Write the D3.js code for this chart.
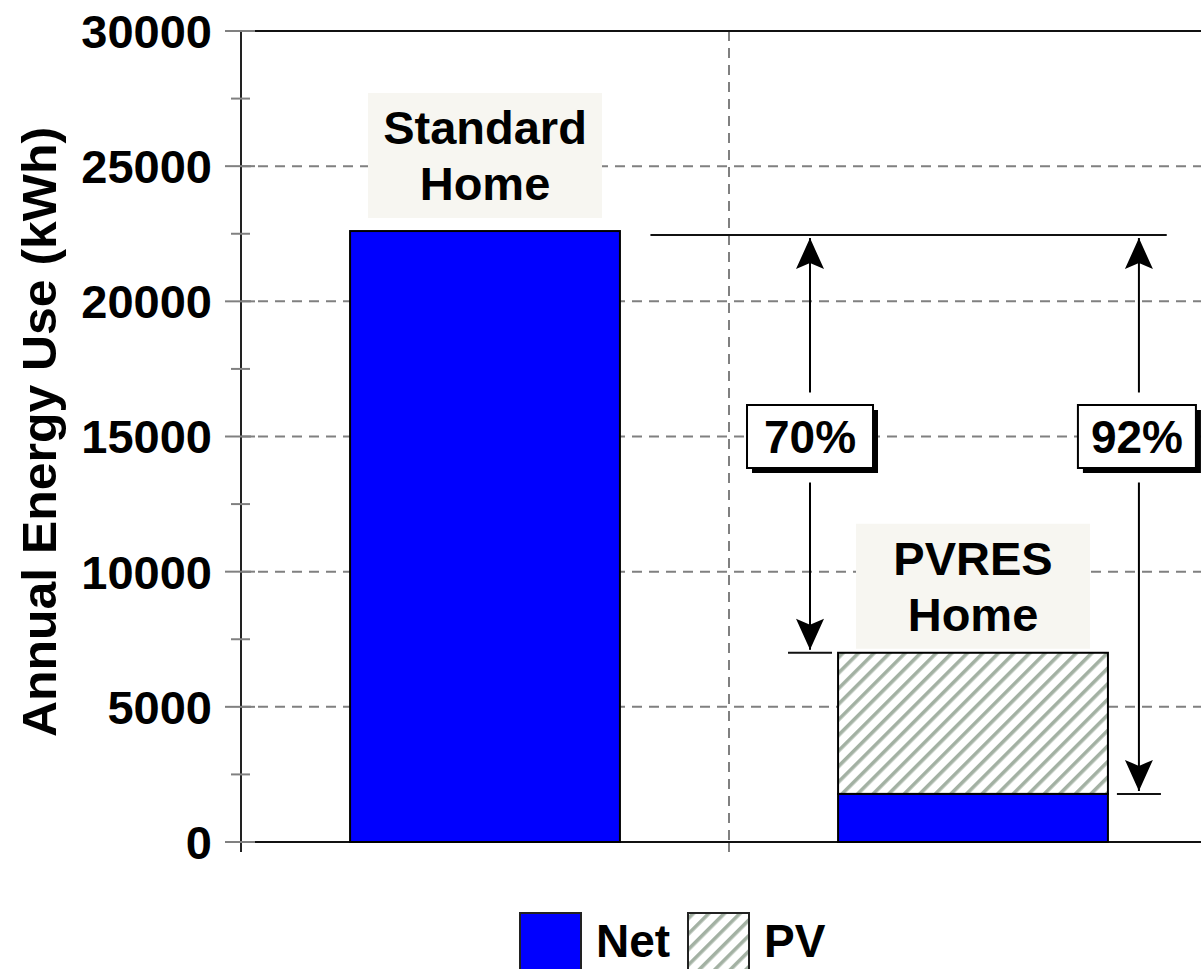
<!DOCTYPE html>
<html>
<head>
<meta charset="utf-8">
<script src="https://cdn.jsdelivr.net/npm/d3@7"></script>
<style>
  html, body { margin: 0; padding: 0; background: #fff; }
  svg { display: block; }
  text { font-family: "Liberation Sans", Arial, sans-serif; font-weight: bold; fill: #000; }
</style>
</head>
<body>
<svg id="chart" width="1201" height="969"></svg>
<script>
// chart data
const categories = ["Standard Home", "PVRES Home"];
const labelLines = [["Standard", "Home"], ["PVRES", "Home"]];
const netValues = [22600, 1780];
const pvValues = [0, 5220];
const yTicks = [0, 5000, 10000, 15000, 20000, 25000, 30000];
const yMinorTicks = [2500, 7500, 12500, 17500, 22500, 27500];
const savings = ["70%", "92%"];
const legendItems = ["Net", "PV"];

const svg = d3.select("#chart");
const W = 1201, H = 969;
const plotLeft = 241, plotTop = 31, plotBottom = 842, plotRight = 1217;

const y = d3.scaleLinear().domain([0, 30000]).range([plotBottom, plotTop]);
const x = d3.scaleBand().domain(categories).range([plotLeft, plotRight]).paddingInner(0).paddingOuter(0);
const barW = x.bandwidth() * 0.553;
const barX = c => x(c) + (x.bandwidth() - barW) / 2;
// continuous helper over the category axis (0..2) for annotation placement
const xc = d3.scaleLinear().domain([0, categories.length]).range([plotLeft, plotRight]);

const grey = "#808080";

// hatch pattern for PV
const defs = svg.append("defs");
const pat = defs.append("pattern")
  .attr("id", "hatch")
  .attr("patternUnits", "userSpaceOnUse")
  .attr("width", 11).attr("height", 11)
  .attr("patternTransform", "rotate(45)");
pat.append("rect").attr("width", 11).attr("height", 11).attr("fill", "#fff");
pat.append("rect").attr("x", 0).attr("width", 3.6).attr("height", 11).attr("fill", "#a3b1a3");

// arrow head, pointing along +x (the line direction)
defs.append("marker")
  .attr("id", "head")
  .attr("viewBox", "-34 -16 36 32")
  .attr("refX", 0).attr("refY", 0)
  .attr("markerWidth", 36).attr("markerHeight", 32)
  .attr("markerUnits", "userSpaceOnUse")
  .attr("orient", "auto-start-reverse")
  .append("path")
  .attr("d", "M0,0 L-31,-14 L-25,0 L-31,14 Z")
  .attr("fill", "#000");

// gridlines
svg.append("g").selectAll("line")
  .data(yTicks.filter(d => d > 0 && d < 30000))
  .join("line")
  .attr("x1", plotLeft).attr("x2", W)
  .attr("y1", d => y(d)).attr("y2", d => y(d))
  .attr("stroke", grey).attr("stroke-width", 2)
  .attr("stroke-dasharray", "10,7");

svg.append("line")
  .attr("x1", x(categories[1])).attr("x2", x(categories[1]))
  .attr("y1", plotTop).attr("y2", plotBottom)
  .attr("stroke", grey).attr("stroke-width", 2)
  .attr("stroke-dasharray", "10,7");
svg.append("line")
  .attr("x1", x(categories[1])).attr("x2", x(categories[1]))
  .attr("y1", plotBottom).attr("y2", plotBottom + 10)
  .attr("stroke", grey).attr("stroke-width", 2);

// frame: top and bottom lines, y axis
svg.append("line").attr("x1", 255).attr("x2", W).attr("y1", y(30000)).attr("y2", y(30000))
  .attr("stroke", "#111").attr("stroke-width", 2);
svg.append("line").attr("x1", 255).attr("x2", W).attr("y1", y(0)).attr("y2", y(0))
  .attr("stroke", "#111").attr("stroke-width", 2);
svg.append("line").attr("x1", plotLeft).attr("x2", plotLeft).attr("y1", plotTop).attr("y2", plotBottom + 10)
  .attr("stroke", "#222").attr("stroke-width", 2);

svg.append("g").selectAll("line")
  .data(yTicks)
  .join("line")
  .attr("x1", 225).attr("x2", 255)
  .attr("y1", d => y(d)).attr("y2", d => y(d))
  .attr("stroke", grey).attr("stroke-width", 2);
svg.append("g").selectAll("line")
  .data(yMinorTicks)
  .join("line")
  .attr("x1", 231).attr("x2", 250)
  .attr("y1", d => y(d)).attr("y2", d => y(d))
  .attr("stroke", grey).attr("stroke-width", 2);

svg.append("g").selectAll("text")
  .data(yTicks)
  .join("text")
  .attr("x", 212)
  .attr("y", d => y(d))
  .attr("dy", "0.36em")
  .attr("text-anchor", "end")
  .attr("font-size", 47)
  .text(d => d);

svg.append("text")
  .attr("transform", "translate(56,432) rotate(-90)")
  .attr("text-anchor", "middle")
  .attr("font-size", 48)
  .attr("textLength", 610)
  .attr("lengthAdjust", "spacingAndGlyphs")
  .text("Annual Energy Use (kWh)");

// bars
svg.append("g").selectAll("rect")
  .data(categories)
  .join("rect")
  .attr("x", d => barX(d))
  .attr("width", barW)
  .attr("y", (d, i) => y(netValues[i]))
  .attr("height", (d, i) => y(0) - y(netValues[i]))
  .attr("fill", "#0000ff")
  .attr("stroke", "#000").attr("stroke-width", 2);

svg.append("g").selectAll("rect")
  .data(categories.filter((d, i) => pvValues[i] > 0))
  .join("rect")
  .attr("x", d => barX(d))
  .attr("width", barW)
  .attr("y", d => { const i = categories.indexOf(d); return y(netValues[i] + pvValues[i]); })
  .attr("height", d => { const i = categories.indexOf(d); return y(netValues[i]) - y(netValues[i] + pvValues[i]); })
  .attr("fill", "url(#hatch)")
  .attr("stroke", "#000").attr("stroke-width", 2);

// category labels above the bars
const labelGap = [13, 4];
categories.forEach((c, i) => {
  const total = netValues[i] + pvValues[i];
  const bx = x(c) + x.bandwidth() / 2;
  const boxTop = y(total) - labelGap[i] - 125;
  svg.append("rect")
    .attr("x", bx - 117).attr("width", 234)
    .attr("y", boxTop).attr("height", 125)
    .attr("fill", "#f7f6f1");
  labelLines[i].forEach((ln, j) => {
    svg.append("text")
      .attr("x", bx)
      .attr("y", boxTop + 51 + j * 56)
      .attr("text-anchor", "middle")
      .attr("font-size", 47)
      .text(ln);
  });
});

// savings annotations
const ref = netValues[0] + pvValues[0];
const arrowX = [xc(1.166), xc(1.84)];
const arrowTo = [netValues[1] + pvValues[1], netValues[1]];
svg.append("line")
  .attr("x1", xc(0.839)).attr("x2", xc(1.897))
  .attr("y1", y(ref) + 4).attr("y2", y(ref) + 4)
  .attr("stroke", "#111").attr("stroke-width", 2);

savings.forEach((s, i) => {
  const ax = arrowX[i];
  const y0 = y(ref) + 7;
  const y1 = y(arrowTo[i]) - 3;
  const mid = y(15000);
  const g = svg.append("g");
  g.append("line")
    .attr("x1", ax).attr("x2", ax).attr("y1", y0).attr("y2", mid - 44)
    .attr("stroke", "#000").attr("stroke-width", 2)
    .attr("marker-start", "url(#head)");
  g.append("line")
    .attr("x1", ax).attr("x2", ax).attr("y1", mid + 46).attr("y2", y1)
    .attr("stroke", "#000").attr("stroke-width", 2)
    .attr("marker-end", "url(#head)");
  g.append("line")
    .attr("x1", ax - 22).attr("x2", ax + 22)
    .attr("y1", y(arrowTo[i])).attr("y2", y(arrowTo[i]))
    .attr("stroke", "#111").attr("stroke-width", 2);

  const bw = i === 0 ? 126 : 118, bh = 63;
  const bxl = ax - bw / 2 - (i === 0 ? 0 : 2);
  g.append("rect")
    .attr("x", bxl + 5).attr("y", mid - bh / 2 + 5)
    .attr("width", bw).attr("height", bh).attr("fill", "#000");
  g.append("rect")
    .attr("x", bxl).attr("y", mid - bh / 2)
    .attr("width", bw).attr("height", bh)
    .attr("fill", "#fff").attr("stroke", "#000").attr("stroke-width", 2);
  g.append("text")
    .attr("x", bxl + bw / 2).attr("y", mid)
    .attr("dy", "0.36em")
    .attr("text-anchor", "middle")
    .attr("font-size", 46)
    .text(s);
});

// legend
const legend = svg.append("g").attr("transform", "translate(520,913)");
const legX = [0, 168];
legendItems.forEach((name, i) => {
  legend.append("rect")
    .attr("x", legX[i]).attr("y", 0)
    .attr("width", 61).attr("height", 57)
    .attr("fill", i === 0 ? "#0000ff" : "url(#hatch)")
    .attr("stroke", "#222").attr("stroke-width", 2);
  legend.append("text")
    .attr("x", legX[i] + 76).attr("y", 44)
    .attr("font-size", 46)
    .text(name);
});
</script>
</body>
</html>
